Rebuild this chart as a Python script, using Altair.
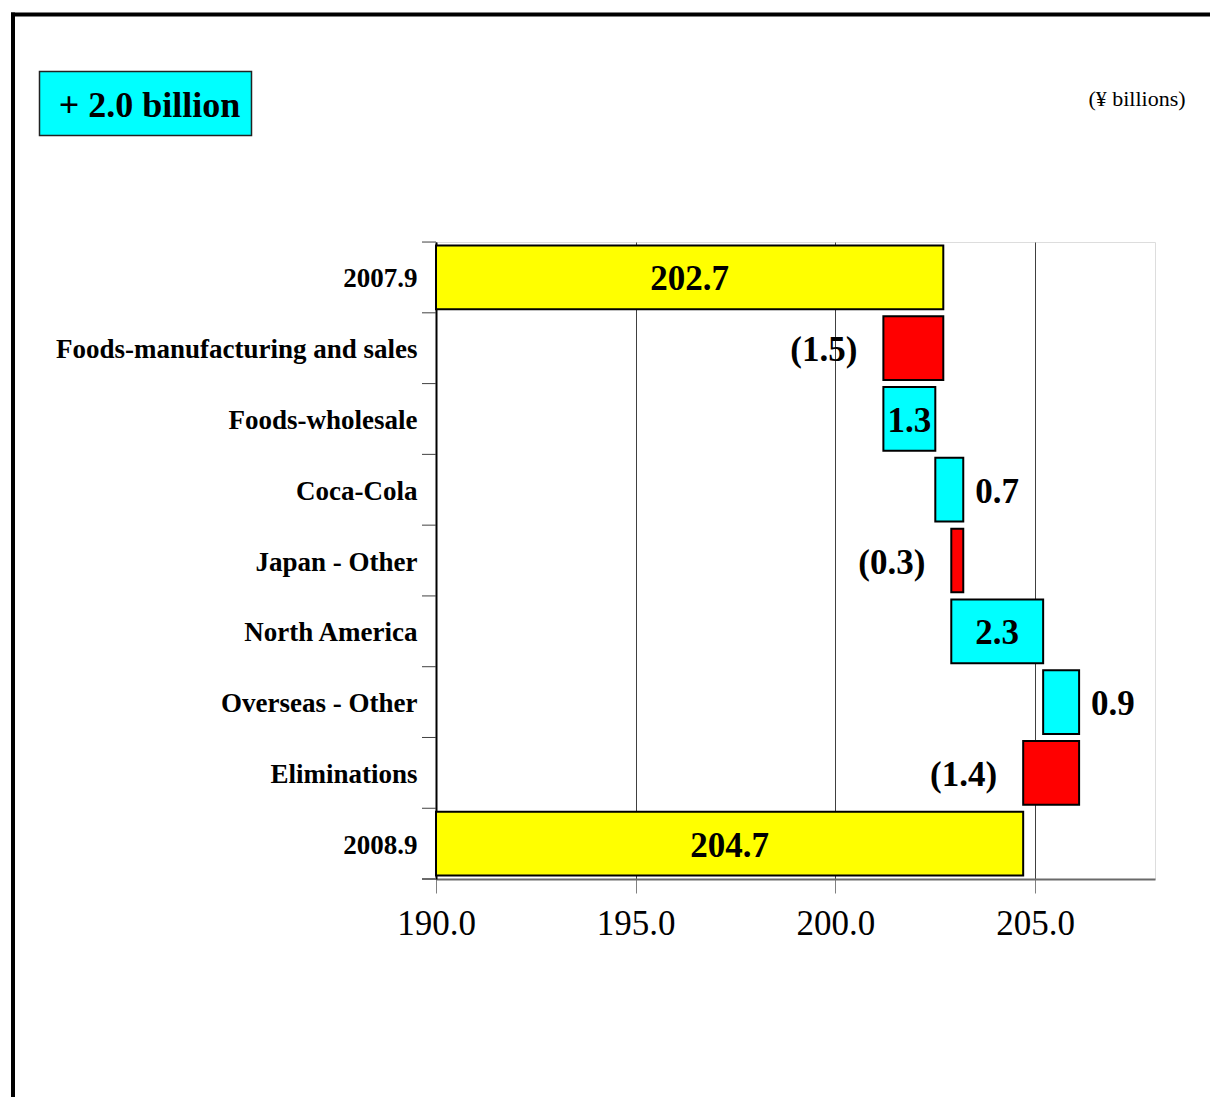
import altair as alt
import pandas as pd

categories = ["2007.9", "Foods-manufacturing and sales", "Foods-wholesale", "Coca-Cola",
              "Japan - Other", "North America", "Overseas - Other", "Eliminations", "2008.9"]
start_total = 202.7
changes = [-1.5, 1.3, 0.7, -0.3, 2.3, 0.9, -1.4]
end_total = 204.7
axis_min = 190.0
axis_max = 208.0
x_ticks = [190, 195, 200, 205]
headline = "+ 2.0 billion"
unit_note = "(\u00a5 billions)"

FONT = "Liberation Serif"

rows = []
rows.append(dict(cat=categories[0], x0=axis_min, x1=start_total, kind="total",
                 label=f"{start_total:.1f}", place="inside"))
level = start_total
for cat, ch in zip(categories[1:-1], changes):
    new = round(level + ch, 1)
    lo, hi = min(level, new), max(level, new)
    if ch < 0:
        kind, label, place = "neg", f"({abs(ch):.1f})", "left"
    else:
        kind, label = "pos", f"{ch:.1f}"
        place = "inside" if ch >= 1.0 else "right"
    rows.append(dict(cat=cat, x0=lo, x1=hi, kind=kind, label=label, place=place))
    level = new
rows.append(dict(cat=categories[-1], x0=axis_min, x1=end_total, kind="total",
                 label=f"{end_total:.1f}", place="inside"))
df = pd.DataFrame(rows)
df["mid"] = (df["x0"] + df["x1"]) / 2

PAD_IN = 0.1
xscale = alt.Scale(domain=[axis_min, axis_max], nice=False, zero=False)
yscale = alt.Scale(domain=categories, paddingInner=PAD_IN, paddingOuter=PAD_IN / 2)

base = alt.Chart(df)

bars = base.mark_bar(stroke="black", strokeWidth=2).encode(
    x=alt.X("x0:Q", scale=xscale,
            axis=alt.Axis(values=x_ticks, format=".1f", title=None, grid=True,
                          gridColor="#404040", gridWidth=1, domainColor="#6a6a6a",
                          domainWidth=2, tickColor="#808080", tickSize=14,
                          labelFont=FONT, labelFontSize=35, labelColor="black",
                          labelPadding=13, labelFlush=False, labelFontWeight="normal")),
    x2="x1:Q",
    y=alt.Y("cat:N", scale=yscale, sort=categories,
            axis=alt.Axis(title=None, ticks=False, labelOffset=2,
                          domainColor="black", domainWidth=2, labelFont=FONT,
                          labelFontSize=27, labelFontWeight="bold", labelColor="black",
                          labelLimit=600, labelPadding=19, grid=False)),
    color=alt.Color("kind:N", scale=alt.Scale(domain=["total", "neg", "pos"],
                                              range=["#FFFF00", "#FF0000", "#00FFFF"]),
                    legend=None),
)

# category boundary ticks on the left of the y axis
row_ticks = base.mark_rule(color="#404040", strokeWidth=1).encode(
    y=alt.Y("cat:N", scale=yscale, sort=categories, bandPosition=0),
    yOffset=alt.value(-3.5),
    x=alt.value(-14), x2=alt.value(0),
)
end_tick = alt.Chart(alt.Data(values=[{"a": 1}])).mark_rule(color="#6a6a6a", strokeWidth=2).encode(
    x=alt.value(-14), x2=alt.value(0), y=alt.value(637))

txt_kw = dict(font=FONT, fontSize=35, fontWeight="bold", color="black", baseline="middle", dy=2)

inside = base.transform_filter(alt.datum.place == "inside").mark_text(align="center", **txt_kw).encode(
    x=alt.X("mid:Q", scale=xscale), y=alt.Y("cat:N", scale=yscale, sort=categories), text="label:N")
left = base.transform_filter(alt.datum.place == "left").mark_text(align="right", dx=-26, **txt_kw).encode(
    x=alt.X("x0:Q", scale=xscale), y=alt.Y("cat:N", scale=yscale, sort=categories), text="label:N")
right = base.transform_filter(alt.datum.place == "right").mark_text(align="left", dx=12, **txt_kw).encode(
    x=alt.X("x1:Q", scale=xscale), y=alt.Y("cat:N", scale=yscale, sort=categories), text="label:N")

one = alt.Data(values=[{"a": 1}])

frame_top = alt.Chart(one).mark_rule(color="black", strokeWidth=4).encode(
    x=alt.value(-425), x2=alt.value(800), y=alt.value(-227.5))
frame_left = alt.Chart(one).mark_rule(color="black", strokeWidth=4).encode(
    x=alt.value(-423), y=alt.value(-229.5), y2=alt.value(900))

box = alt.Chart(one).mark_rect(fill="#00FFFF", stroke="#222222", strokeWidth=1.5).encode(
    x=alt.value(-396.5), x2=alt.value(-184.5), y=alt.value(-170.5), y2=alt.value(-106.5))
box_text = alt.Chart(one).mark_text(font=FONT, fontSize=36, fontWeight="bold", color="black",
                                    align="center", baseline="alphabetic").encode(
    x=alt.value(-286.5), y=alt.value(-125), text=alt.value(headline))
unit_text = alt.Chart(one).mark_text(font=FONT, fontSize=22, color="black",
                                     align="center", baseline="alphabetic").encode(
    x=alt.value(701), y=alt.value(-136), text=alt.value(unit_note))

chart = alt.layer(bars, row_ticks, end_tick, inside, left, right, frame_top, frame_left,
                  box, box_text, unit_text).properties(
    width=719, height=637,
    padding={"left": 428, "top": 234, "right": 55, "bottom": 218},
    autosize=alt.AutoSizeParams(type="none"),
).configure_view(stroke="#808080", strokeWidth=1).configure(background="white")

chart.save("out.html", embed_options={"renderer": "svg", "actions": False})
